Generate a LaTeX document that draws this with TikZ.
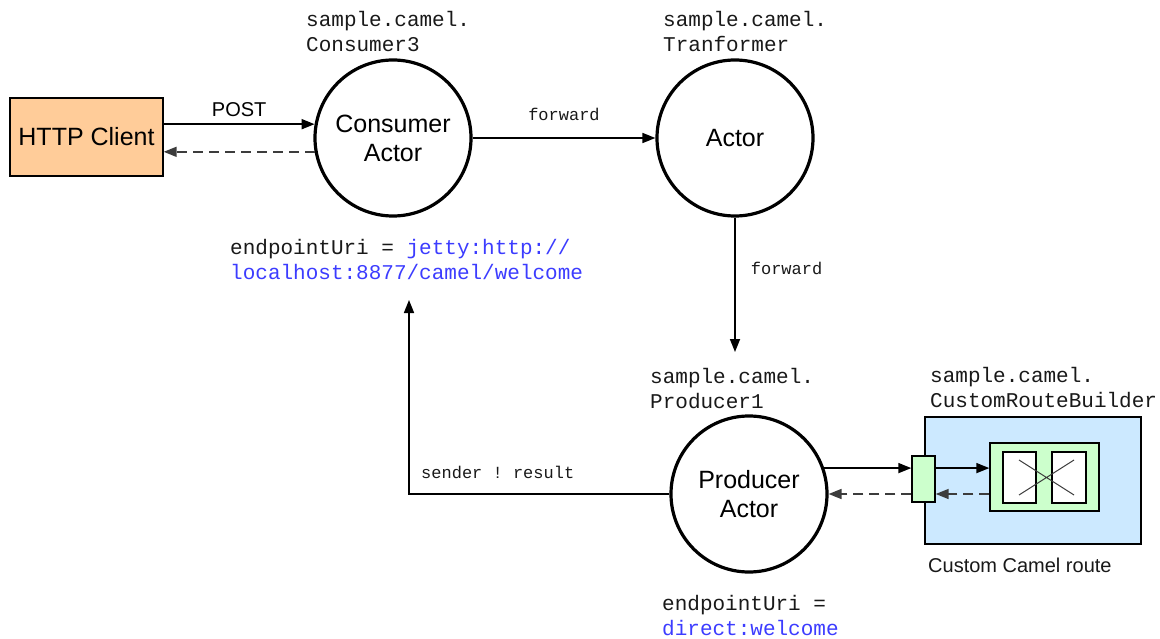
\documentclass[tikz,border=0pt]{standalone}
\usepackage{fontspec}
\setmainfont{Liberation Sans}
\setmonofont{Liberation Mono}
\usetikzlibrary{arrows.meta}
\definecolor{clientfill}{RGB}{255,204,153}
\definecolor{routefill}{RGB}{204,233,255}
\definecolor{greenfill}{RGB}{204,255,204}
\definecolor{uriblue}{RGB}{60,60,255}
\definecolor{dashgray}{RGB}{60,60,60}
\tikzset{
  actor/.style={draw, circle, line width=3.2pt, minimum size=156pt, inner sep=0pt, align=center, font=\fontsize{25}{29}\selectfont},
  classlbl/.style={anchor=west, align=left, inner sep=0pt, font=\ttfamily\fontsize{21}{25}\selectfont, text=black!90},
  msglbl/.style={inner sep=0pt, font=\ttfamily\fontsize{17}{20}\selectfont, text=black!90},
  fwd/.style={-{Triangle[length=13pt,width=10pt]}, line width=1.7pt},
  back/.style={-{Triangle[length=13pt,width=10pt]}, line width=1.7pt, dashgray, dash pattern=on 10pt off 6pt},
  box/.style={draw, line width=1.4pt, inner sep=0pt}
}
\begin{document}
\begin{tikzpicture}[x=1pt, y=-1pt]
\useasboundingbox (0,0) rectangle (1160,639);
\node[box, fill=clientfill, minimum width=153pt, minimum height=78pt, font=\fontsize{25}{29}\selectfont] (client) at (86.5,137) {HTTP Client};
\node[actor] (consumer) at (393,138) {Consumer\\Actor};
\node[actor] (transformer) at (735,138) {Actor};
\node[actor] (producer) at (749,494) {Producer\\Actor};
%%%%%%%%%%%%%
\node[classlbl] (consumerlbl) at (306,31) {sample.camel.\\Consumer3};
\node[classlbl] (transformerlbl) at (663,31) {sample.camel.\\Tranformer};
\node[classlbl] (producerlbl) at (650,389) {sample.camel.\\Producer1};
\node[classlbl] (builderlbl) at (930,388) {sample.camel.\\CustomRouteBuilder};
\node[classlbl] (consumeruri) at (230,259) {endpointUri = \textcolor{uriblue}{jetty:http://}\\\textcolor{uriblue}{localhost:8877/camel/welcome}};
\node[classlbl] (produceruri) at (662,616) {endpointUri =\\\textcolor{uriblue}{direct:welcome}};
%%%%%%%%%%%%%
\node[box, fill=routefill, minimum width=216pt, minimum height=127pt] (route) at (1033,480.5) {};
\node[box, fill=greenfill, minimum width=23pt, minimum height=46pt] (port) at (923.5,479) {};
\node[box, fill=greenfill, minimum width=109pt, minimum height=68pt] (inner) at (1044.5,477) {};
\node[box, fill=white, minimum width=33pt, minimum height=51pt] (procA) at (1019.5,477.5) {};
\node[box, fill=white, minimum width=34pt, minimum height=51pt] (procB) at (1069,477.5) {};
\draw[dashgray, line width=1pt] (1019,460) -- (1074,495) (1074,460) -- (1019,495);
\node[anchor=west, inner sep=0pt, font=\fontsize{20}{24}\selectfont, text=black!90] (routelbl) at (928,565) {Custom Camel route};
%%%%%%%%%%%%%
\coordinate (fwdend) at (735,352);
\coordinate (retend) at (409,300);
\draw[fwd] (client.east |- consumer.170) -- node[above=7pt, font=\fontsize{20}{24}\selectfont, inner sep=0pt] {POST} (consumer.170);
\draw[back] (consumer.190) -- (client.east |- consumer.190);
\draw[fwd] (consumer) -- node[msglbl, above=16pt] {forward} (transformer);
\draw[fwd] (transformer) -- node[msglbl, right=15pt, pos=0.38] {forward} (fwdend);
\draw[fwd] (producer.west) -| (retend);
\node[msglbl, anchor=west] (retlbl) at (421,472) {sender ! result};
\draw[fwd] (producer.19) -- (port.west |- producer.19);
\draw[back] (port.west |- producer.0) -- (producer.0);
\draw[fwd] (port.east |- producer.19) -- (inner.west |- producer.19);
\draw[back] (inner.west |- producer.0) -- (port.east |- producer.0);
\end{tikzpicture}
\end{document}
